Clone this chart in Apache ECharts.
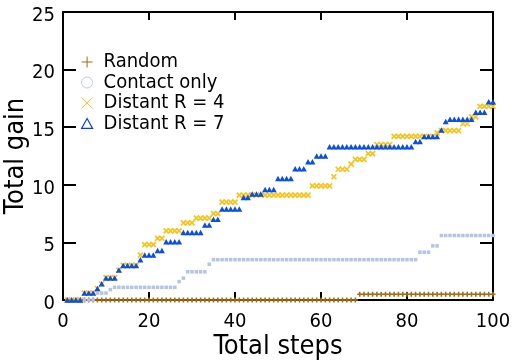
<!DOCTYPE html>
<html>
<head>
<meta charset="utf-8">
<script src="https://cdn.jsdelivr.net/npm/echarts@6/dist/echarts.min.js"></script>
<style>
html,body{margin:0;padding:0;background:#fff;}
#chart{width:512px;height:364px;}
</style>
</head>
<body>
<div id="chart"></div>
<script>
// Data (steps 1..100)
var seriesNames = ['Random', 'Contact only', 'Distant R = 4', 'Distant R = 7'];
var xTicks = [0, 20, 40, 60, 80, 100];
var yTicks = [0, 5, 10, 15, 20, 25];

var randomVals = [
  0,0,0,0,0,0,0,0,0,0,
  0,0,0,0,0,0,0,0,0,0,
  0,0,0,0,0,0,0,0,0,0,
  0,0,0,0,0,0,0,0,0,0,
  0,0,0,0,0,0,0,0,0,0,
  0,0,0,0,0,0,0,0,0,0,
  0,0,0,0,0,0,0,0,0.5,0.5,
  0.5,0.5,0.5,0.5,0.5,0.5,0.5,0.5,0.5,0.5,
  0.5,0.5,0.5,0.5,0.5,0.5,0.5,0.5,0.5,0.5,
  0.5,0.5,0.5,0.5,0.5,0.5,0.5,0.5,0.5,0.5
];
var contactVals = [
  0,0,0,0,0,0,0,0.6,0.6,0.6,
  0.9,1.1,1.1,1.1,1.1,1.1,1.1,1.1,1.1,1.1,
  1.1,1.1,1.1,1.1,1.1,1.1,1.6,1.9,2.45,2.45,
  2.45,2.45,2.45,3.1,3.5,3.5,3.5,3.5,3.5,3.5,
  3.5,3.5,3.5,3.5,3.5,3.5,3.5,3.5,3.5,3.5,
  3.5,3.5,3.5,3.5,3.5,3.5,3.5,3.5,3.5,3.5,
  3.5,3.5,3.5,3.5,3.5,3.5,3.5,3.5,3.5,3.5,
  3.5,3.5,3.5,3.5,3.5,3.5,3.5,3.5,3.5,3.5,
  3.5,3.5,4.15,4.15,4.15,4.7,4.7,5.6,5.6,5.6,
  5.6,5.6,5.6,5.6,5.6,5.6,5.6,5.6,5.6,5.6
];
var distant4Vals = [
  0,0,0,0,0.6,0.6,0.6,1.0,1.4,1.95,
  1.95,1.95,2.6,3.0,3.0,3.0,3.0,3.9,4.8,4.8,
  4.8,5.35,5.35,6.0,6.0,6.0,6.0,6.7,6.7,6.7,
  7.1,7.1,7.1,7.1,7.5,7.5,8.5,8.5,8.5,8.5,
  9.1,9.1,9.1,9.1,9.1,9.1,9.1,9.1,9.1,9.1,
  9.1,9.1,9.1,9.1,9.1,9.1,9.1,9.9,9.9,9.9,
  9.9,9.9,10.7,11.35,11.35,11.35,11.8,12.2,12.2,12.2,
  12.7,12.7,13.5,13.5,13.5,13.5,14.2,14.2,14.2,14.2,
  14.2,14.2,14.2,14.2,14.2,14.2,14.5,14.7,14.7,14.7,
  14.7,14.7,15.3,15.3,15.9,15.9,16.8,16.8,16.8,16.8
];
var distant7Vals = [
  0,0,0,0,0.6,0.6,0.6,1.0,1.4,1.9,
  1.9,1.9,2.6,3.0,3.0,3.0,3.0,3.5,3.9,3.9,
  3.9,4.3,4.3,5.05,5.05,5.05,5.05,5.85,5.85,5.85,
  5.85,5.85,6.5,6.5,7.0,7.0,7.9,7.9,7.9,7.9,
  7.9,8.9,8.9,9.2,9.2,9.2,9.6,9.6,9.6,10.55,
  10.55,10.55,10.55,11.4,11.4,11.4,12.0,12.0,12.5,12.5,
  12.5,13.3,13.3,13.3,13.3,13.3,13.3,13.3,13.3,13.3,
  13.3,13.3,13.3,13.3,13.3,13.3,13.3,13.3,13.3,13.3,
  13.3,13.75,13.75,14.2,14.2,14.2,14.2,14.75,15.5,15.7,
  15.7,15.7,15.7,15.7,15.7,16.3,16.3,16.3,17.2,17.2
];

function pairs(vals){ return vals.map(function(v,i){ return [i+1, v]; }); }

var FONT = '"DejaVu Sans Condensed", "DejaVu Sans", sans-serif';
var plusPath = 'path://M5,0L5,10M0,5L10,5';
var crossPath = 'path://M0,0L10,10M10,0L0,10';
var circlePath = 'path://M10,5A5,5,0,1,1,0,5A5,5,0,1,1,10,5Z';
var triPath = 'path://M5,0L10,9L0,9Z';
var cBrown = '#a46e12', cContact = '#b4c4e2', cYellow = '#f8c41c', cBlue = '#0a4fe4';

var chart = echarts.init(document.getElementById('chart'), null, {renderer:'canvas'});

var axisCommon = {
  type: 'value',
  axisLine: {show: true, onZero: false, lineStyle: {color: '#000', width: 2}},
  splitLine: {show: false}
};

chart.setOption({
  animation: false,
  backgroundColor: '#fff',
  grid: {left: 63, right: 19, top: 12, bottom: 64, containLabel: false, outerBoundsMode: 'none'},
  legend: {
    orient: 'vertical', left: 81, top: 52, padding: 0,
    itemWidth: 11, itemHeight: 11, itemGap: 0.5,
    textStyle: {fontFamily: FONT, fontSize: 20, color: '#000', lineHeight: 19, padding: [0,0,0,6]},
    data: [
      {name: 'Random', icon: plusPath, itemStyle: {color: 'transparent', borderColor: cBrown, borderWidth: 1}},
      {name: 'Contact only', icon: circlePath, itemStyle: {color: 'transparent', borderColor: '#c4cae8', borderWidth: 1}},
      {name: 'Distant R = 4', icon: crossPath, itemStyle: {color: 'transparent', borderColor: cYellow, borderWidth: 1}},
      {name: 'Distant R = 7', icon: triPath, itemStyle: {color: 'transparent', borderColor: '#0a3ff0', borderWidth: 1.2}}
    ]
  },
  xAxis: [
    Object.assign({}, axisCommon, {
      position: 'bottom', min: 0, max: 100, interval: 20,
      axisTick: {show: true, inside: true, length: 8, lineStyle: {color: '#000', width: 2}},
      axisLabel: {show: true, margin: 12, color: '#000', fontFamily: FONT, fontSize: 20, showMinLabel: true, showMaxLabel: true,
        formatter: function(v){ return xTicks.indexOf(v) >= 0 ? String(v) : ''; }},
      name: 'Total steps', nameLocation: 'middle', nameGap: 33, nameMoveOverlap: false,
      nameTextStyle: {fontFamily: FONT, fontSize: 27, color: '#000'}
    }),
    Object.assign({}, axisCommon, {
      position: 'top', min: 0, max: 100, interval: 20,
      axisTick: {show: true, inside: true, length: 8, lineStyle: {color: '#000', width: 2}},
      axisLabel: {show: false}
    })
  ],
  yAxis: [
    Object.assign({}, axisCommon, {
      position: 'left', min: 0, max: 25, interval: 5,
      axisTick: {show: true, inside: true, length: 13, lineStyle: {color: '#000', width: 2}},
      axisLabel: {show: true, margin: 8, color: '#000', fontFamily: FONT, fontSize: 20, showMinLabel: true, showMaxLabel: true,
        formatter: function(v){ return yTicks.indexOf(v) >= 0 ? '{v|' + v + '}' : ''; },
        rich: {v: {fontFamily: FONT, fontSize: 20, color: '#000', padding: [7,0,0,0]}}},
      name: 'Total gain', nameLocation: 'middle', nameGap: 34, nameMoveOverlap: false,
      nameTextStyle: {fontFamily: FONT, fontSize: 27, color: '#000'}
    }),
    Object.assign({}, axisCommon, {
      position: 'right', min: 0, max: 25, interval: 5,
      axisTick: {show: true, inside: true, length: 13, lineStyle: {color: '#000', width: 2}},
      axisLabel: {show: false}
    })
  ],
  series: [
    {name: seriesNames[0], type: 'scatter', data: pairs(randomVals), symbol: plusPath, symbolSize: 5,
      itemStyle: {color: 'transparent', borderColor: cBrown, borderWidth: 1.6, opacity: 1}},
    {name: seriesNames[1], type: 'scatter', data: pairs(contactVals), symbol: 'rect', symbolSize: 3.5,
      itemStyle: {color: cContact, opacity: 1}},
    {name: seriesNames[2], type: 'scatter', data: pairs(distant4Vals), symbol: crossPath, symbolSize: 5,
      itemStyle: {color: 'transparent', borderColor: cYellow, borderWidth: 1.7, opacity: 1}},
    {name: seriesNames[3], type: 'scatter', data: pairs(distant7Vals), symbol: 'triangle', symbolSize: [6, 5.5],
      itemStyle: {color: cBlue, opacity: 1}}
  ]
});
</script>
</body>
</html>
